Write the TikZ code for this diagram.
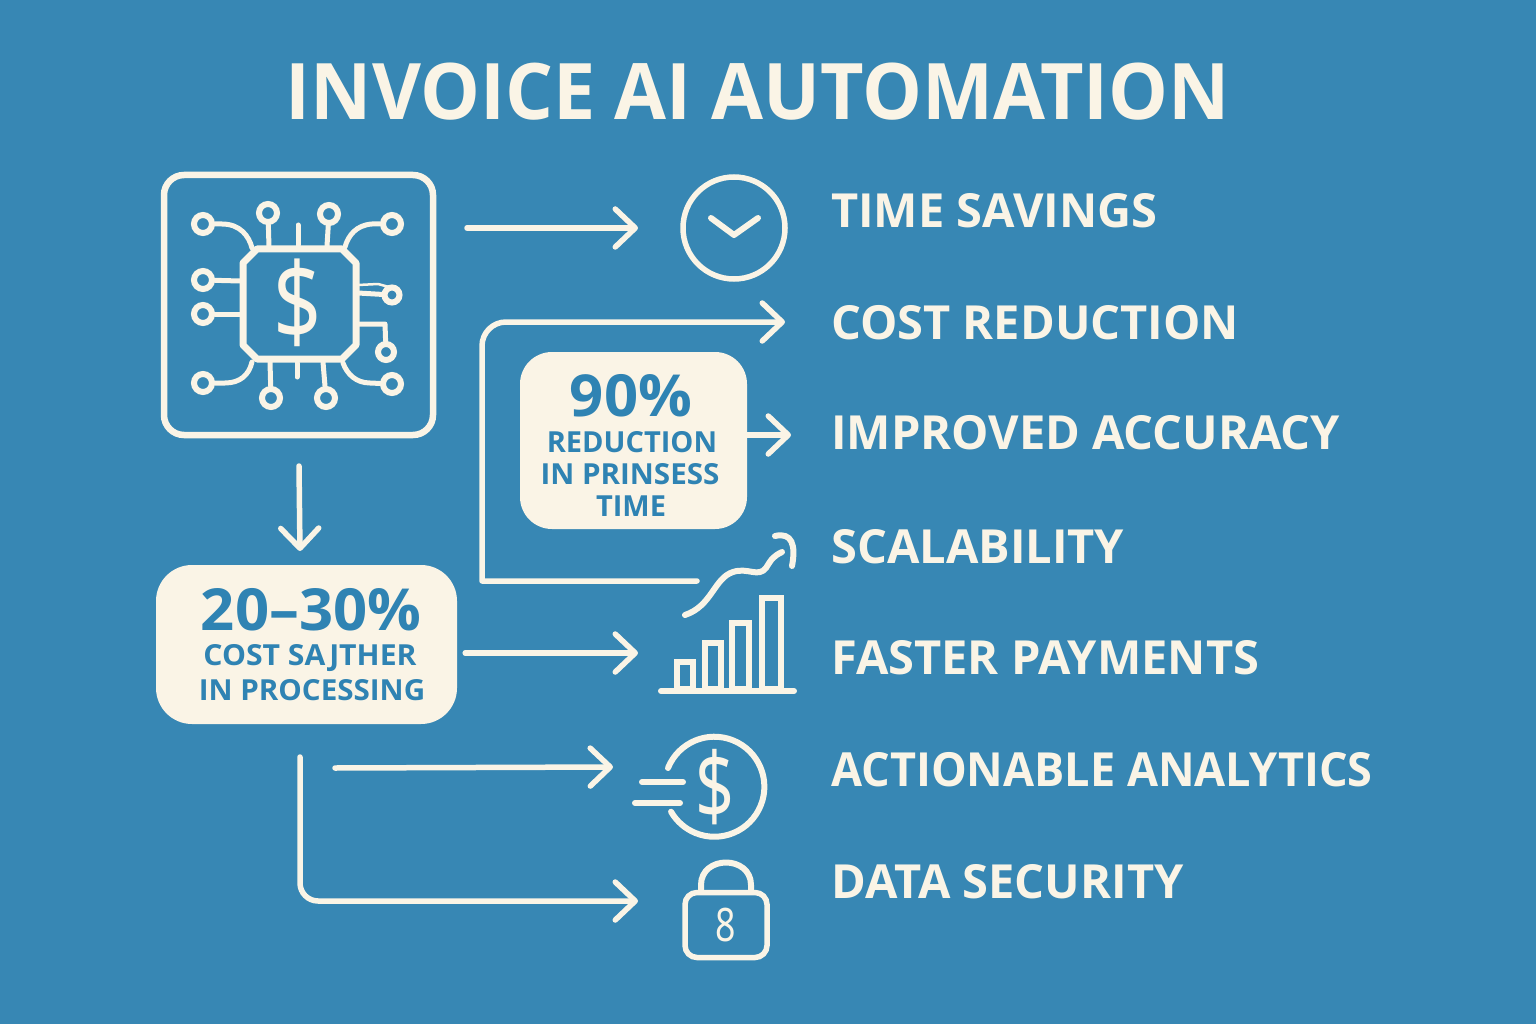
\documentclass[tikz,border=0pt]{standalone}
\usepackage{fontspec}
\setmainfont{Open Sans}
\newfontfamily\glyphfont{Noto Sans}
\usetikzlibrary{arrows.meta}
\definecolor{bgblue}{HTML}{3787B4}
\definecolor{cream}{HTML}{FAF4E6}
\definecolor{inkblue}{HTML}{2F83B3}
\newcommand{\fsz}[1]{\fontsize{#1}{#1}\selectfont}
\tikzset{
  flow/.style={draw=cream,line width=5.5pt,line cap=round,line join=round,-{Straight Barb[length=20pt,width=38pt,round]}},
  iconline/.style={draw=cream,line width=6pt,line cap=round,line join=round},
  lead/.style={draw=cream,line width=5pt,line cap=round,line join=round},
  pin/.style={circle,draw=cream,line width=6pt,minimum size=18pt,inner sep=0pt},
  statbox/.style={fill=cream,rounded corners=32pt,inner sep=0pt},
  benefit/.style={anchor=base west,text=cream,font=\fsz{47}\bfseries,inner sep=0pt},
  big/.style={text=inkblue,font=\fsz{58}\bfseries,inner sep=0pt},
  small/.style={text=inkblue,font=\fsz{29}\bfseries,inner sep=0pt},
  glyph/.style={text=cream,inner sep=0pt}
}
\begin{document}
\begin{tikzpicture}[x=1pt,y=-1pt]
\useasboundingbox (0,0) rectangle (1536,1024);
\fill[bgblue] (0,0) rectangle (1536,1024);
% title
\node[text=cream,font=\fsz{78}\bfseries,inner sep=0pt] (title) at (758,92) {\scalebox{0.966}[1]{INVOICE AI AUTOMATION}};
% chip icon
\node[draw=cream,line width=6.5pt,rounded corners=20pt,minimum width=269pt,minimum height=260pt,inner sep=0pt] (chipframe) at (298.5,305) {};
\draw[iconline,line width=7pt] (257,249) -- (342,249) -- (356,263) -- (356,345) -- (342,359) -- (257,359) -- (243,345) -- (243,263) -- cycle;
\node[glyph,font=\glyphfont\fsz{84}] (chipdollar) at (298,303) {\scalebox{1}[1.28]{\$}};
\node[pin] (p1) at (203,224) {};
\node[pin] (p2) at (268,213) {};
\node[pin] (p3) at (329,214) {};
\node[pin] (p4) at (392,224) {};
\node[pin] (p5) at (203,280) {};
\node[pin] (p6) at (203,314) {};
\node[pin] (p7) at (203,383) {};
\node[pin] (p8) at (271,398) {};
\node[pin] (p9) at (326,398) {};
\node[pin] (p10) at (392,384) {};
\node[pin,minimum size=15pt] (p11) at (392,295) {};
\node[pin,minimum size=16pt] (p12) at (386,352) {};
\draw[lead] (p1) -- (222,224) .. controls (240,224) and (249,236) .. (252,248);
\draw[lead] (p2) -- (269,247);
\draw[lead] (298,225) -- (298,245);
\draw[lead] (p3) -- (327,246);
\draw[lead] (p4) -- (372,224) .. controls (356,225) and (348,236) .. (345,247);
\draw[lead] (p5) -- (240,281);
\draw[lead] (p6) -- (240,314);
\draw[lead] (p7) -- (225,383) .. controls (240,383) and (249,375) .. (252,362);
\draw[lead] (p8) -- (270,362);
\draw[lead] (297,363) -- (297,377);
\draw[lead] (p9) -- (323,362);
\draw[lead] (p10) -- (370,383) .. controls (356,383) and (347,374) .. (343,363);
\draw[lead] (p11) -- (358,293);
\draw[lead,line width=2.5pt] (358,285) -- (378,284) -- (389,287);
\draw[lead] (p12) -- (385,324) -- (358,324);
% clock
\node[circle,draw=cream,line width=5.5pt,minimum size=102pt,inner sep=0pt] (clock) at (734,228) {};
\draw[iconline] (711,218) -- (734,235) -- (758,218);
% stat boxes
\node[statbox,minimum width=227pt,minimum height=177pt] (ninety) at (633.5,440.5) {};
\node[big] (ninetyA) at (631,396) {\scalebox{1.03}[1]{90\%}};
\node[small] (ninetyB) at (632,442) {REDUCTION};
\node[small] (ninetyC) at (630,474) {\scalebox{1.02}[1]{IN PRINSESS}};
\node[small] (ninetyD) at (631,506) {TIME};
\node[statbox,rounded corners=36pt,minimum width=301pt,minimum height=159pt] (saving) at (306.5,644.5) {};
\node[big] (savingA) at (311,610) {\scalebox{1.03}[1]{20–30\%}};
\node[small] (savingB) at (310,658) {\scalebox{1.04}[1]{COST SAJTHER}};
\node[small] (savingC) at (312,690) {\scalebox{1.02}[1]{IN PROCESSING}};
% free ends of connectors
\coordinate (a1s) at (467,228); \coordinate (a1e) at (638,228);
\coordinate (a2s) at (697,581); \coordinate (a2c) at (482,581); \coordinate (a2t) at (482,322); \coordinate (a2e) at (785,322);
\coordinate (a3e) at (791,435);
\coordinate (a4s) at (299,466); \coordinate (a4e) at (300,551);
\coordinate (a5e) at (638,653);
\coordinate (a6s) at (335,768); \coordinate (a6e) at (613,767);
\coordinate (a7s) at (300,757); \coordinate (a7c) at (300,901); \coordinate (a7e) at (638,901);
% connectors
\draw[flow] (a1s) -- (a1e);
\draw[flow] (a2s) -- (a2c) [rounded corners=24pt] -- (a2t) -- (a2e);
\draw[flow] (ninety.east |- a3e) -- (a3e);
\draw[flow] (a4s) -- (a4e);
\draw[flow] (saving.east |- a5e) ++(8,0) -- (a5e);
\draw[flow] (a6s) -- (a6e);
\draw[flow,rounded corners=18pt] (a7s) -- (a7c) -- (a7e);
% trend and bars
\draw[iconline] (685,615) .. controls (712,606) and (714,578) .. (733,572) .. controls (748,567) and (758,578) .. (766,568) .. controls (772,558) and (774,556) .. (782,552);
\draw[iconline] (775,536) .. controls (792,532) and (796,545) .. (792,566);
\draw[iconline,line join=miter,line cap=butt] (677,689) rectangle (693,662);
\draw[iconline,line join=miter,line cap=butt] (705,689) rectangle (721,643);
\draw[iconline,line join=miter,line cap=butt] (732,689) rectangle (749,623);
\draw[iconline,line join=miter,line cap=butt] (762,689) rectangle (781,598);
\draw[iconline,line width=6pt] (661,691) -- (794,691);
% coin
\draw[iconline] (668,768) arc[start angle=158,end angle=-150,radius=50pt];
\node[glyph,font=\glyphfont\fsz{68}] (coindollar) at (715,787) {\scalebox{1}[1.36]{\$}};
\draw[iconline] (642,782) -- (683,782);
\draw[iconline] (635,803) -- (680,803);
% lock
\node[draw=cream,line width=5.5pt,rounded corners=12pt,minimum width=82pt,minimum height=65pt,inner sep=0pt] (lockbody) at (726,925) {};
\draw[iconline] (701,891) -- (701,885) .. controls (701,855) and (751,855) .. (751,885) -- (751,891);
\node[glyph,font=\glyphfont\fsz{42}] (lockdigit) at (726,925) {\scalebox{0.85}[1.1]{8}};
% benefits
\node[benefit] (b1) at (831,228) {TIME SAVINGS};
\node[benefit] (b2) at (831,339) {COST REDUCTION};
\node[benefit] (b3) at (831,449) {IMPROVED ACCURACY};
\node[benefit] (b4) at (831,563) {SCALABILITY};
\node[benefit] (b5) at (831,674) {FASTER PAYMENTS};
\node[benefit] (b6) at (831,786) {\scalebox{0.958}[1]{ACTIONABLE ANALYTICS}};
\node[benefit] (b7) at (831,898) {DATA SECURITY};
\end{tikzpicture}
\end{document}
